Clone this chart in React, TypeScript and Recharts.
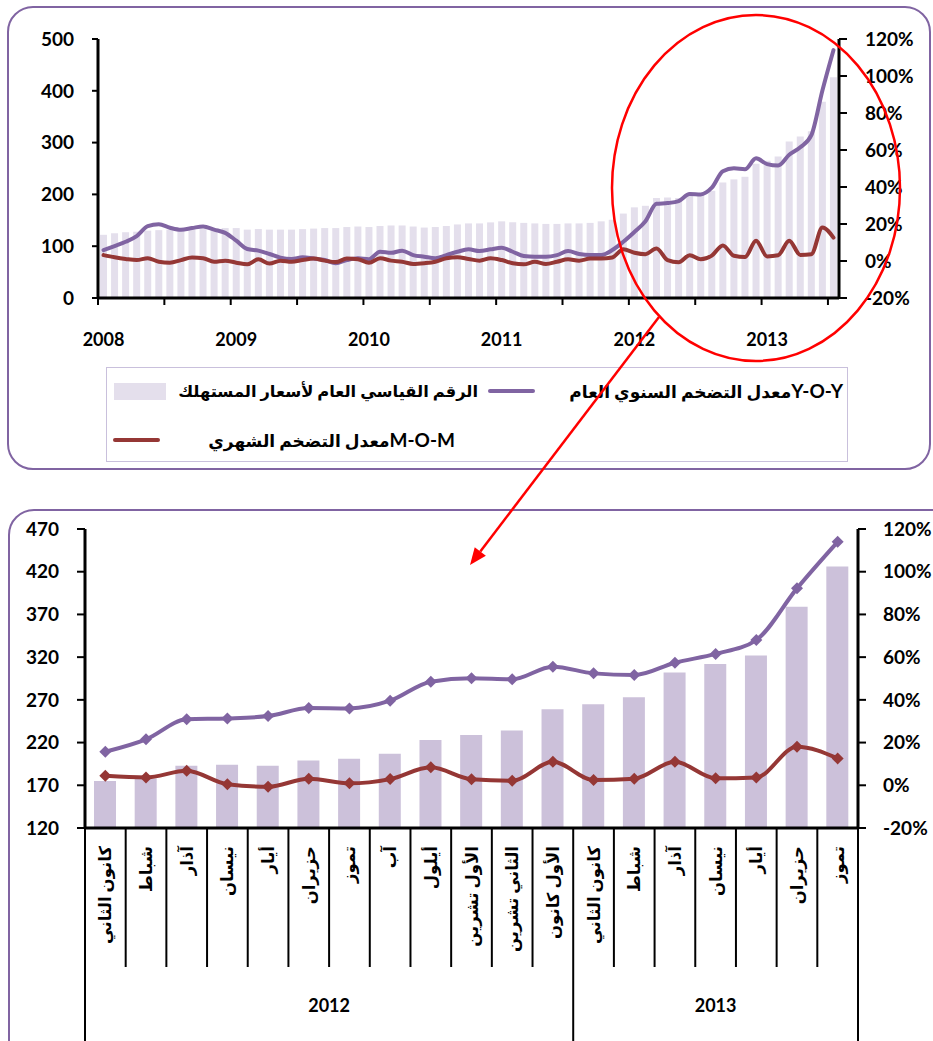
import React from "react";
import { ComposedChart, Bar, Line, XAxis, YAxis } from "recharts";

const YEARS = ["2008", "2009", "2010", "2011", "2012", "2013"];

// consumer price index (left axis)
const CPI_2008 = [122, 125, 127, 128, 130, 131, 132, 132, 132, 133, 134, 135];
const CPI_2009 = [135, 132, 133, 132, 132, 132, 133, 134, 135, 135, 137, 138];
const CPI_2010 = [137, 139, 140, 140, 138, 136, 137, 139, 142, 144, 144, 146];
const CPI_2011 = [148, 146, 145, 144, 143, 143, 144, 144, 145, 148, 151, 163];
const CPI_2012 = [175, 178, 193, 194, 193, 199, 201, 207, 223, 229, 234, 259];
const CPI_2013 = [265, 273, 302, 312, 322, 379, 426];

// Y-O-Y inflation, %
const YOY_2008 = [5.9, 8.1, 10.4, 13.5, 18.8, 19.8, 18.0, 16.9, 17.8, 18.7, 17.0, 15.2];
const YOY_2009 = [11.0, 6.5, 5.6, 3.8, 1.8, 1.1, 2.0, 1.3, 0.5, -1.2, 0.5, 1.5];
const YOY_2010 = [1.0, 5.0, 4.4, 5.6, 3.2, 2.3, 1.5, 3.2, 5.0, 6.3, 5.4, 6.3];
const YOY_2011 = [7.2, 5.0, 2.7, 2.3, 2.3, 3.2, 5.4, 3.8, 3.2, 3.2, 5.9, 10.4];
const YOY_2012 = [15.7, 21.5, 30.9, 31.3, 32.4, 36.2, 36.0, 39.6, 48.5, 50.1, 49.6, 55.5];
const YOY_2013 = [52.4, 51.6, 57.4, 61.5, 68.0, 92.2, 114.0];

// M-O-M inflation, %
const MOM_2008 = [3.2, 2.0, 1.1, 0.5, 1.5, -0.4, -0.9, 0.5, 1.9, 1.5, -0.4, 0.2];
const MOM_2009 = [-0.9, -1.8, 0.9, -1.4, 0.2, -0.4, 0.5, 1.3, 0.2, -0.6, 1.3, 0.9];
const MOM_2010 = [-0.9, 1.5, 0.2, -0.4, -1.6, -1.2, -0.4, 1.5, 2.0, 1.1, 0.2, 1.5];
const MOM_2011 = [0.5, -1.2, -1.8, -0.4, -1.6, -0.4, 0.9, 0.2, 1.3, 1.3, 1.9, 6.3];
const MOM_2012 = [4.5, 3.7, 6.8, 0.5, -0.7, 3.1, 0.9, 2.9, 8.4, 2.8, 2.1, 11.0];
const MOM_2013 = [2.5, 3.1, 11.0, 3.3, 3.7, 18.1, 12.6];

const MONTHS_2012 = [
  "كانون الثاني", "شباط", "آذار", "نيسان", "أيار", "حزيران",
  "تموز", "آب", "أيلول", "الأول تشرين", "الثاني تشرين", "الأول كانون",
];
const MONTHS_2013 = ["كانون الثاني", "شباط", "آذار", "نيسان", "أيار", "حزيران", "تموز"];

const LEFT_TICKS_TOP = [0, 100, 200, 300, 400, 500];
const LEFT_TICKS_BOTTOM = [120, 170, 220, 270, 320, 370, 420, 470];
const PCT_TICKS = [-20, 0, 20, 40, 60, 80, 100, 120];

const LEGEND_CPI = "الرقم القياسي العام لأسعار المستهلك";
const LEGEND_YOY_TAG = "Y-O-Y";
const LEGEND_YOY = "معدل التضخم السنوي العام";
const LEGEND_MOM_TAG = "M-O-M";
const LEGEND_MOM = "معدل التضخم الشهري";

const CPI = [CPI_2008, CPI_2009, CPI_2010, CPI_2011, CPI_2012, CPI_2013];
const YOY = [YOY_2008, YOY_2009, YOY_2010, YOY_2011, YOY_2012, YOY_2013];
const MOM = [MOM_2008, MOM_2009, MOM_2010, MOM_2011, MOM_2012, MOM_2013];

const topData = YEARS.flatMap((year, yi) =>
  CPI[yi].map((cpi, m) => ({ key: `${year}-${m + 1}`, year, m, cpi, yoy: YOY[yi][m], mom: MOM[yi][m] }))
);

const bottomData = [
  ...MONTHS_2012.map((label, m) => ({
    key: `2012-${m + 1}`, year: "2012", m, label, count: MONTHS_2012.length,
    cpi: CPI_2012[m], yoy: YOY_2012[m], mom: MOM_2012[m],
  })),
  ...MONTHS_2013.map((label, m) => ({
    key: `2013-${m + 1}`, year: "2013", m, label, count: MONTHS_2013.length,
    cpi: CPI_2013[m], yoy: YOY_2013[m], mom: MOM_2013[m],
  })),
];

const FONT = "Lato, 'DejaVu Sans', sans-serif";
const PURPLE = "#8064a2";
const RED = "#953735";
const BAR_TOP = "#e4dfec";
const BAR_BOTTOM = "#ccc1da";

const W = 933;

// top chart layout
const TOP_H = 360;
const TOP_LEFT_W = 98;
const TOP_RIGHT_W = 94;
const TOP_X_H = 62;
const TOP_PLOT_BOTTOM = TOP_H - TOP_X_H;
const TOP_BAND = (W - TOP_LEFT_W - TOP_RIGHT_W) / topData.length;

// bottom chart layout
const BOT_Y = 509;
const BOT_H = 532;
const BOT_LEFT_W = 85;
const BOT_RIGHT_W = 75;
const BOT_X_H = 213;
const BOT_PLOT_BOTTOM = BOT_H - BOT_X_H;
const BOT_BAND = (W - BOT_LEFT_W - BOT_RIGHT_W) / bottomData.length;
const MONTH_ROW_H = 139;

const tickFont = { fontSize: 19, fontWeight: 700, fill: "#000", fontFamily: FONT };

function TopTick(props: any) {
  const { x } = props;
  const i = props.payload?.index ?? props.index;
  const d = topData[i];
  if (!d) return null;
  const left = x - TOP_BAND / 2;
  return (
    <g>
      {d.m % 6 === 0 && (
        <line x1={left} x2={left} y1={TOP_PLOT_BOTTOM} y2={TOP_PLOT_BOTTOM + 7} stroke="#000" strokeWidth={2} />
      )}
      {d.m === 0 && (
        <text x={x} y={TOP_PLOT_BOTTOM + 41} textAnchor="middle" dominantBaseline="central"
          fontSize={18} fontWeight={700} fontFamily={FONT} fill="#000">
          {d.year}
        </text>
      )}
    </g>
  );
}

function BottomTick(props: any) {
  const { x } = props;
  const i = props.payload?.index ?? props.index;
  const d = bottomData[i];
  if (!d) return null;
  const left = x - BOT_BAND / 2;
  const right = x + BOT_BAND / 2;
  const y0 = BOT_PLOT_BOTTOM;
  const labelTop = y0 + 18;
  return (
    <g>
      <line x1={left} x2={left} y1={y0} y2={y0 + (d.m === 0 ? BOT_X_H : MONTH_ROW_H)} stroke="#000" strokeWidth={2} />
      {i === bottomData.length - 1 && (
        <line x1={right} x2={right} y1={y0} y2={y0 + BOT_X_H} stroke="#000" strokeWidth={2} />
      )}
      <text x={x} y={labelTop} transform={`rotate(-90, ${x}, ${labelTop})`} textAnchor="end"
        dominantBaseline="central" fontSize={16.5} fontWeight={700} fontFamily={FONT} fill="#000">
        {d.label}
      </text>
      {d.m === 0 && (
        <text x={left + (d.count * BOT_BAND) / 2} y={y0 + 177} textAnchor="middle" dominantBaseline="central"
          fontSize={18} fontWeight={700} fontFamily={FONT} fill="#000">
          {d.year}
        </text>
      )}
    </g>
  );
}

function diamond(color: string) {
  return (p: any) => {
    const { cx, cy, index } = p;
    if (cx == null || cy == null) return <g key={`e-${index}`} />;
    const r = 6;
    return (
      <path key={`d-${index}`} d={`M${cx},${cy - r}L${cx + r},${cy}L${cx},${cy + r}L${cx - r},${cy}Z`} fill={color} />
    );
  };
}

function Annotations() {
  // red circle + arrow drawn over the picture
  const x1 = 659, y1 = 317, x2 = 470, y2 = 565;
  const len = Math.hypot(x2 - x1, y2 - y1);
  const ux = (x2 - x1) / len, uy = (y2 - y1) / len;
  const hl = 17, hw = 7;
  const bx = x2 - ux * hl, by = y2 - uy * hl;
  const head = `${x2},${y2} ${bx - uy * hw},${by + ux * hw} ${bx + uy * hw},${by - ux * hw}`;
  return (
    <svg width={W} height={1041} style={{ position: "absolute", left: 0, top: 0, pointerEvents: "none" }}>
      <ellipse cx={756} cy={188} rx={144} ry={173} fill="none" stroke="#ff0000" strokeWidth={2.5} />
      <line x1={x1} y1={y1} x2={bx} y2={by} stroke="#ff0000" strokeWidth={2.5} />
      <polygon points={head} fill="#ff0000" />
    </svg>
  );
}

const legendText: React.CSSProperties = {
  position: "absolute",
  height: 24,
  lineHeight: "24px",
  fontSize: 17,
  fontWeight: 700,
  fontFamily: FONT,
  color: "#000",
  whiteSpace: "nowrap",
  direction: "rtl",
  textAlign: "right",
};

const tagStyle: React.CSSProperties = { fontSize: 19, fontFamily: FONT };

function Legend() {
  return (
    <>
      <div style={{ position: "absolute", left: 106, top: 367, width: 742, height: 95, border: "1.5px solid #c9c0dc", boxSizing: "border-box" }} />
      <div style={{ position: "absolute", left: 114, top: 383, width: 52, height: 17, background: BAR_TOP }} />
      <div style={{ ...legendText, left: 172, top: 379, width: 306, fontSize: 16.3 }}>{LEGEND_CPI}</div>
      <div style={{ position: "absolute", left: 488, top: 389, width: 47, height: 4, borderRadius: 2, background: PURPLE }} />
      <div style={{ ...legendText, left: 540, top: 379, width: 303 }}>
        <span style={tagStyle}>{LEGEND_YOY_TAG}</span>
        <span>{LEGEND_YOY}</span>
      </div>
      <div style={{ position: "absolute", left: 113, top: 438, width: 47, height: 4, borderRadius: 2, background: RED }} />
      <div style={{ ...legendText, left: 170, top: 428, width: 285 }}>
        <span style={tagStyle}>{LEGEND_MOM_TAG}</span>
        <span>{LEGEND_MOM}</span>
      </div>
    </>
  );
}

export default function App() {
  return (
    <div style={{ position: "fixed", left: 0, top: 0, width: W, height: 1041, overflow: "hidden", background: "#fff" }}>
      <div style={{ position: "absolute", left: 7, top: 6, width: 924, height: 464, border: `2px solid ${PURPLE}`, borderRadius: 26, boxSizing: "border-box" }} />
      <div style={{ position: "absolute", left: 8, top: BOT_Y, width: 960, height: 600, border: `2px solid ${PURPLE}`, borderRadius: 26, boxSizing: "border-box" }} />

      <div style={{ position: "absolute", left: 0, top: 0 }}>
        <ComposedChart width={W} height={TOP_H} data={topData} margin={{ top: 39, right: 0, bottom: 0, left: 0 }}>
          <XAxis dataKey="key" interval={0} height={TOP_X_H} tickLine={false}
            axisLine={{ stroke: "#000", strokeWidth: 3 }} tick={(p: any) => <TopTick {...p} />} />
          <YAxis yAxisId="left" width={TOP_LEFT_W} domain={[0, 500]} ticks={LEFT_TICKS_TOP} tickSize={6} tickMargin={18}
            axisLine={{ stroke: "#000", strokeWidth: 3 }} tickLine={{ stroke: "#000", strokeWidth: 2 }} tick={tickFont} />
          <YAxis yAxisId="right" orientation="right" width={TOP_RIGHT_W} domain={[-20, 120]} ticks={PCT_TICKS}
            tickSize={8} tickMargin={18} tickFormatter={(v) => `${v}%`}
            axisLine={{ stroke: "#000", strokeWidth: 3 }} tickLine={{ stroke: "#000", strokeWidth: 2 }} tick={tickFont} />
          <Bar yAxisId="left" dataKey="cpi" fill={BAR_TOP} barSize={7} isAnimationActive={false} />
          <Line yAxisId="right" type="monotone" dataKey="yoy" stroke={PURPLE} strokeWidth={4} dot={false}
            strokeLinecap="round" strokeLinejoin="round" isAnimationActive={false} />
          <Line yAxisId="right" type="monotone" dataKey="mom" stroke={RED} strokeWidth={4} dot={false}
            strokeLinecap="round" strokeLinejoin="round" isAnimationActive={false} />
        </ComposedChart>
      </div>

      <Legend />

      <div style={{ position: "absolute", left: 0, top: BOT_Y }}>
        <ComposedChart width={W} height={BOT_H} data={bottomData} margin={{ top: 20, right: 0, bottom: 0, left: 0 }}>
          <XAxis dataKey="key" interval={0} height={BOT_X_H} tickLine={false}
            axisLine={{ stroke: "#000", strokeWidth: 3 }} tick={(p: any) => <BottomTick {...p} />} />
          <YAxis yAxisId="left" width={BOT_LEFT_W} domain={[120, 470]} ticks={LEFT_TICKS_BOTTOM} tickSize={8} tickMargin={18}
            axisLine={{ stroke: "#000", strokeWidth: 3 }} tickLine={{ stroke: "#000", strokeWidth: 2 }} tick={tickFont} />
          <YAxis yAxisId="right" orientation="right" width={BOT_RIGHT_W} domain={[-20, 120]} ticks={PCT_TICKS}
            tickSize={8} tickMargin={17} tickFormatter={(v) => `${v}%`}
            axisLine={{ stroke: "#000", strokeWidth: 3 }} tickLine={{ stroke: "#000", strokeWidth: 2 }} tick={tickFont} />
          <Bar yAxisId="left" dataKey="cpi" fill={BAR_BOTTOM} barSize={22} isAnimationActive={false} />
          <Line yAxisId="right" type="monotone" dataKey="yoy" stroke={PURPLE} strokeWidth={4} dot={diamond(PURPLE)}
            activeDot={false} isAnimationActive={false} />
          <Line yAxisId="right" type="monotone" dataKey="mom" stroke={RED} strokeWidth={4} dot={diamond(RED)}
            activeDot={false} isAnimationActive={false} />
        </ComposedChart>
      </div>

      <Annotations />
    </div>
  );
}
